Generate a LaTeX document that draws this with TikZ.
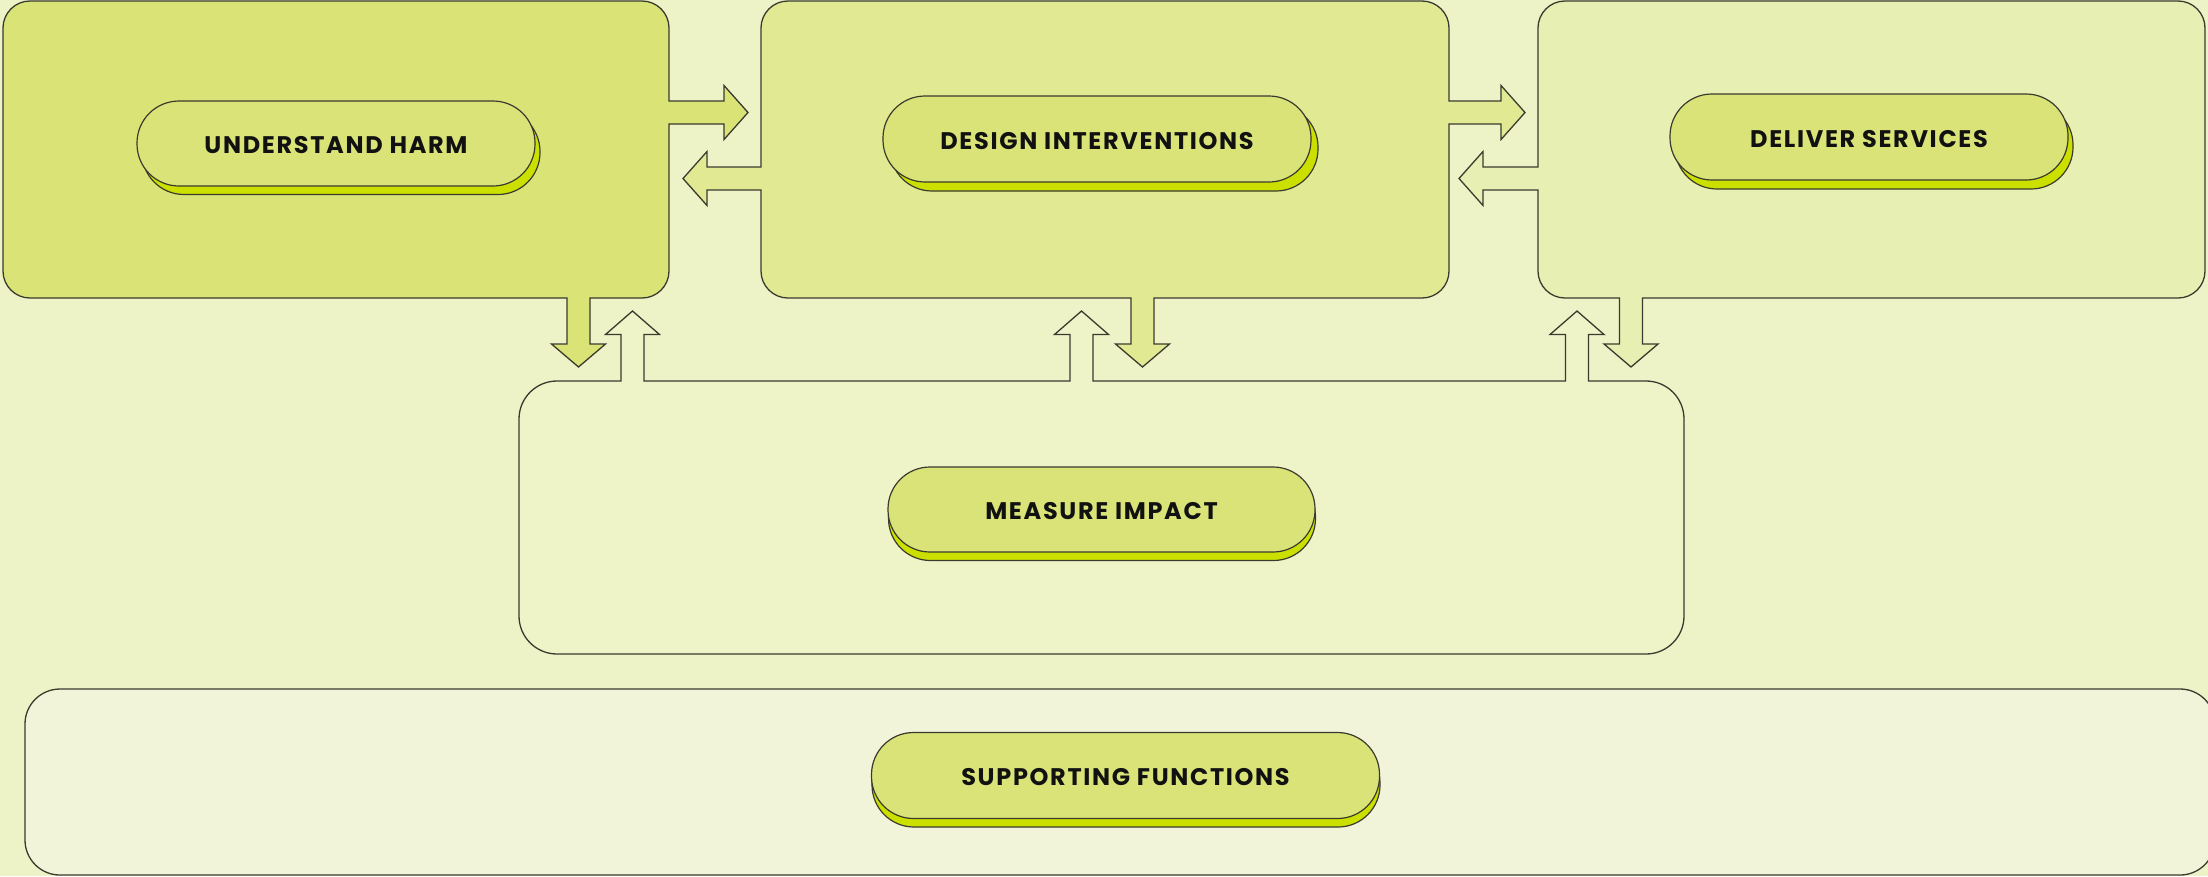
\documentclass[tikz,border=0pt]{standalone}
\usepackage{fontspec}
\setmainfont{Poppins}[LetterSpace=7]
\definecolor{bgc}{HTML}{EEF3C7}
\definecolor{boxA}{HTML}{D9E376}
\definecolor{boxB}{HTML}{E1EA93}
\definecolor{boxC}{HTML}{E8EFB2}
\definecolor{boxM}{HTML}{EEF3C8}
\definecolor{boxS}{HTML}{F2F4D9}
\definecolor{pillc}{HTML}{D9E377}
\definecolor{shadc}{HTML}{CCE000}
\definecolor{linec}{HTML}{3A3A2E}
\definecolor{txtc}{HTML}{111111}
\tikzset{
  outl/.style={draw=linec, line width=1.3pt, line join=miter},
  pill/.style={draw=linec, line width=1.2pt, fill=pillc, rounded corners=42pt,
    inner sep=0pt, text=txtc, text height=20.5pt, text depth=0pt,
    font=\fontsize{24}{27}\selectfont\bfseries},
  pillshadow/.style={draw=linec, line width=1.2pt, fill=shadc, rounded corners=42pt, inner sep=0pt}
}
\begin{document}
\begin{tikzpicture}[x=1pt,y=-1pt]
\useasboundingbox (0,0) rectangle (2208,876);
\fill[bgc] (0,0) rectangle (2208,876);

% Box 1 : understand harm
\path[outl, fill=boxA] (30,1) -- (642,1) arc[start angle=90,end angle=0,radius=27pt]
  -- (669,101) -- (724,101) -- (724,85.5) -- (748,112.5) -- (724,139.5) -- (724,124) -- (669,124)
  -- (669,271) arc[start angle=0,end angle=-90,radius=27pt]
  -- (590,298) -- (590,344) -- (605.5,344) -- (578.5,367) -- (551.5,344) -- (567,344) -- (567,298)
  -- (30,298) arc[start angle=270,end angle=180,radius=27pt]
  -- (3,28) arc[start angle=180,end angle=90,radius=27pt] -- cycle;

% Box 2 : design interventions
\path[outl, fill=boxB] (788,1) -- (1422,1) arc[start angle=90,end angle=0,radius=27pt]
  -- (1449,101) -- (1501,101) -- (1501,85.5) -- (1525,112.5) -- (1501,139.5) -- (1501,124) -- (1449,124)
  -- (1449,271) arc[start angle=0,end angle=-90,radius=27pt]
  -- (1154,298) -- (1154,344) -- (1169.5,344) -- (1142.5,367) -- (1115.5,344) -- (1131,344) -- (1131,298)
  -- (788,298) arc[start angle=270,end angle=180,radius=27pt]
  -- (761,190) -- (707,190) -- (707,205.5) -- (683,178.5) -- (707,151.5) -- (707,167) -- (761,167)
  -- (761,28) arc[start angle=180,end angle=90,radius=27pt] -- cycle;

% Box 3 : deliver services
\path[outl, fill=boxC] (1565,1) -- (2178,1) arc[start angle=90,end angle=0,radius=27pt]
  -- (2205,271) arc[start angle=0,end angle=-90,radius=27pt]
  -- (1642.5,298) -- (1642.5,344) -- (1658,344) -- (1631,367) -- (1604,344) -- (1619.5,344) -- (1619.5,298)
  -- (1565,298) arc[start angle=270,end angle=180,radius=27pt]
  -- (1538,190) -- (1483,190) -- (1483,205.5) -- (1459,178.5) -- (1483,151.5) -- (1483,167) -- (1538,167)
  -- (1538,28) arc[start angle=180,end angle=90,radius=27pt] -- cycle;

% Measure box
\path[outl, fill=boxM] (557,381)
  -- (621,381) -- (621,334.5) -- (605.5,334.5) -- (632.5,311) -- (659.5,334.5) -- (644,334.5) -- (644,381)
  -- (1070,381) -- (1070,334.5) -- (1054.5,334.5) -- (1081.5,311) -- (1108.5,334.5) -- (1093,334.5) -- (1093,381)
  -- (1565.5,381) -- (1565.5,334.5) -- (1550,334.5) -- (1577,311) -- (1604,334.5) -- (1588.5,334.5) -- (1588.5,381)
  -- (1646,381) arc[start angle=90,end angle=0,radius=38pt]
  -- (1684,616) arc[start angle=0,end angle=-90,radius=38pt]
  -- (557,654) arc[start angle=270,end angle=180,radius=38pt]
  -- (519,419) arc[start angle=180,end angle=90,radius=38pt] -- cycle;

% Supporting box
\path[outl, fill=boxS] (60,689) -- (2180,689) arc[start angle=90,end angle=0,radius=35pt]
  -- (2215,840) arc[start angle=0,end angle=-90,radius=35pt]
  -- (60,875) arc[start angle=270,end angle=180,radius=35pt]
  -- (25,724) arc[start angle=180,end angle=90,radius=35pt] -- cycle;

% Pills
\node[pillshadow, minimum width=398pt, minimum height=85pt] (uhs) at (341,152) {};
\node[pill, minimum width=398pt, minimum height=85pt] (uh) at (336,143.5) {UNDERSTAND HARM};

\node[pillshadow, minimum width=428pt, minimum height=86pt] (dis) at (1104,148) {};
\node[pill, minimum width=428pt, minimum height=86pt] (di) at (1097,139) {DESIGN INTERVENTIONS};

\node[pillshadow, minimum width=398pt, minimum height=86pt] (dss) at (1874,146) {};
\node[pill, minimum width=398pt, minimum height=86pt] (ds) at (1869,137) {DELIVER SERVICES};

\node[pillshadow, minimum width=427pt, minimum height=85pt] (mis) at (1102,518) {};
\node[pill, minimum width=427pt, minimum height=85pt] (mi) at (1101.5,509.5) {MEASURE IMPACT};

\node[pillshadow, minimum width=508pt, minimum height=86pt] (sfs) at (1126,784) {};
\node[pill, minimum width=508pt, minimum height=86pt] (sf) at (1125.5,775.5) {SUPPORTING FUNCTIONS};
\end{tikzpicture}
\end{document}
